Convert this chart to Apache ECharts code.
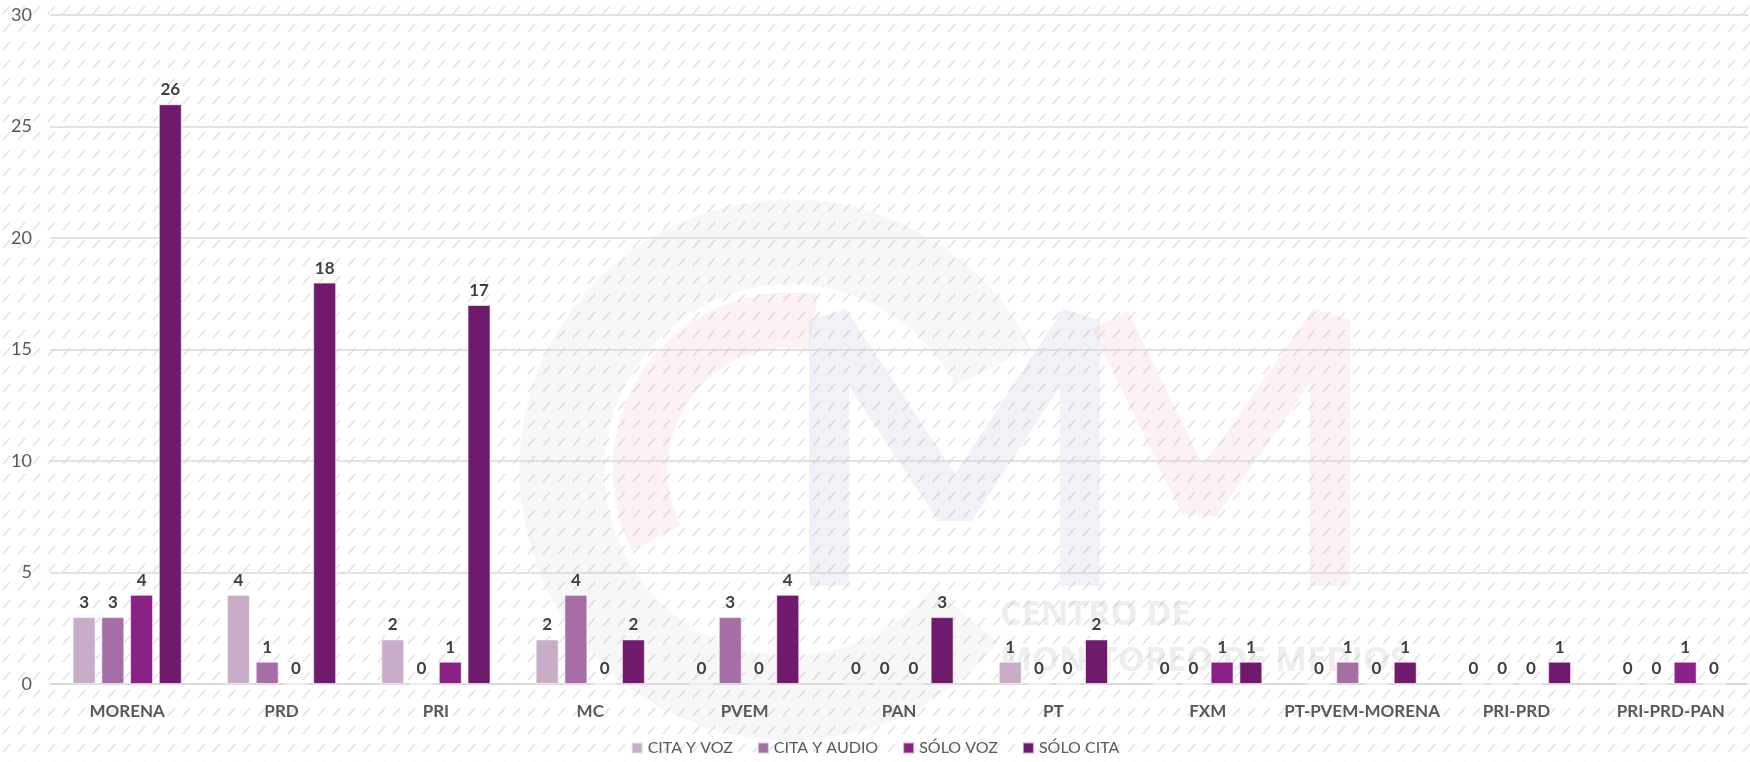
<!DOCTYPE html>
<html>
<head>
<meta charset="utf-8">
<script src="https://cdn.jsdelivr.net/npm/echarts@6/dist/echarts.min.js"></script>
<style>
  html, body { margin: 0; padding: 0; background: #fff; }
  #chart { width: 1750px; height: 762px; }
</style>
</head>
<body>
<div id="chart"></div>
<script>
const partidos = ["MORENA", "PRD", "PRI", "MC", "PVEM", "PAN", "PT", "FXM", "PT-PVEM-MORENA", "PRI-PRD", "PRI-PRD-PAN"];
const citaYVoz   = [3, 4, 2, 2, 0, 0, 1, 0, 0, 0, 0];
const citaYAudio = [3, 1, 0, 4, 3, 0, 0, 0, 1, 0, 0];
const soloVoz    = [4, 0, 1, 0, 0, 0, 0, 1, 0, 0, 1];
const soloCita   = [26, 18, 17, 2, 4, 3, 2, 1, 1, 1, 0];

const colores = ["#C9ADC8", "#A76DA6", "#8A2186", "#701A6D"];

// fondo rayado
const tile = document.createElement("canvas");
tile.width = 15;
tile.height = 18;
const tctx = tile.getContext("2d");
tctx.fillStyle = "#ffffff";
tctx.fillRect(0, 0, 15, 18);
tctx.strokeStyle = "#e3e3e3";
tctx.lineWidth = 1.6;
tctx.beginPath();
tctx.moveTo(3, 14);
tctx.lineTo(10, 6);
tctx.stroke();

const chart = echarts.init(document.getElementById("chart"));

const labelStyle = {
  show: true,
  position: "top",
  distance: 6,
  color: "#404040",
  fontFamily: "Lato",
  fontWeight: "bold",
  fontSize: 17,
};

function serie(name, data, i) {
  return {
    name: name,
    type: "bar",
    data: data,
    barWidth: 23,
    barGap: "25%",
    itemStyle: { color: colores[i], borderColor: "rgba(255,255,255,0.6)", borderWidth: 1 },
    label: labelStyle,
    z: 3,
  };
}

const gris = "rgba(190,190,190,0.13)";
const rosa = "rgba(240,175,180,0.16)";
const azul = "rgba(170,175,210,0.16)";
const options = {
  backgroundColor: { image: tile, repeat: "repeat" },
  animation: false,
  graphic: [
    // marca de agua CMM
    { type: "arc", shape: { cx: 790, cy: 470, r: 228, startAngle: Math.PI * 0.22, endAngle: Math.PI * 1.85, clockwise: true },
      style: { stroke: gris, lineWidth: 85, fill: null }, z: 0 },
    { type: "arc", shape: { cx: 790, cy: 470, r: 150, startAngle: Math.PI * 0.85, endAngle: Math.PI * 1.55, clockwise: true },
      style: { stroke: rosa, lineWidth: 55, fill: null }, z: 0 },
    { type: "polyline", shape: { points: [[829, 586], [829, 320], [955, 510], [1080, 320], [1080, 586]] },
      style: { stroke: azul, lineWidth: 40, fill: null, lineJoin: "bevel" }, z: 0 },
    { type: "polyline", shape: { points: [[1110, 320], [1200, 505], [1330, 320], [1330, 586]] },
      style: { stroke: rosa, lineWidth: 40, fill: null, lineJoin: "bevel" }, z: 0 },
    { type: "text", left: 1000, top: 592, z: 0,
      style: { text: "CENTRO DE\nMONITOREO DE MEDIOS", fill: "rgba(170,170,170,0.2)", font: "bold 34px 'Open Sans'", lineHeight: 46 } },
  ],
  grid: { left: 50, right: 2, top: 15, bottom: 78 },
  legend: {
    bottom: 1,
    left: "center",
    icon: "rect",
    itemWidth: 11,
    itemHeight: 11,
    itemGap: 24,
    textStyle: { color: "#595959", fontFamily: "Lato", fontSize: 16 },
    data: ["CITA Y VOZ", "CITA Y AUDIO", "SÓLO VOZ", "SÓLO CITA"],
  },
  xAxis: {
    type: "category",
    data: partidos,
    axisLine: { show: true, lineStyle: { color: "#d9d9d9", width: 1.5 } },
    axisTick: { show: false },
    axisLabel: { interval: 0, color: "#595959", fontFamily: "Lato", fontWeight: "bold", fontSize: 17, margin: 19 },
  },
  yAxis: {
    type: "value",
    min: 0,
    max: 30,
    interval: 5,
    axisLine: { show: false },
    axisTick: { show: false },
    splitLine: { lineStyle: { color: "#d9d9d9", width: 1.5 } },
    axisLabel: { color: "#595959", fontFamily: "Lato", fontSize: 18, margin: 18 },
  },
  series: [
    serie("CITA Y VOZ", citaYVoz, 0),
    serie("CITA Y AUDIO", citaYAudio, 1),
    serie("SÓLO VOZ", soloVoz, 2),
    serie("SÓLO CITA", soloCita, 3),
  ],
};

chart.setOption(options);
</script>
</body>
</html>
